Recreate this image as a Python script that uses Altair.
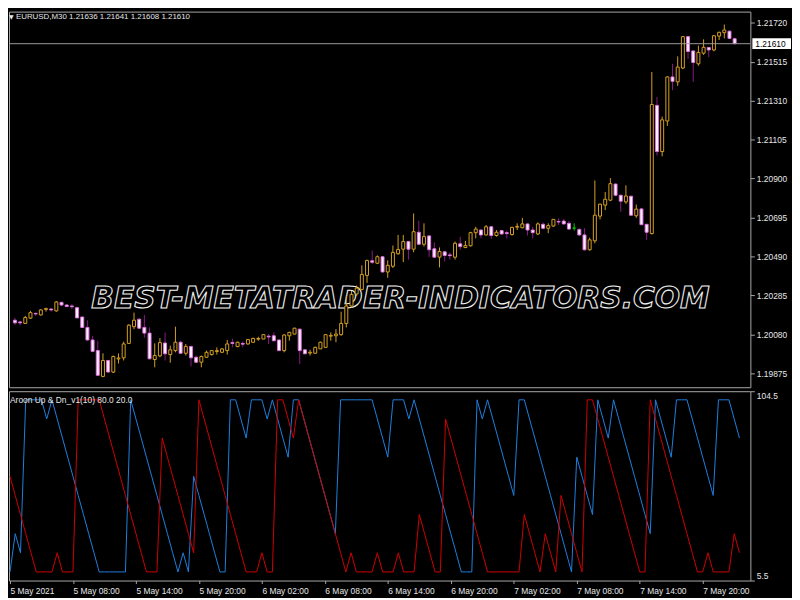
import json
import altair as alt
import pandas as pd

# ---------------- data ----------------
symbol_title = "EURUSD,M30  1.21636 1.21641 1.21608 1.21610"
indicator_title = "Aroon Up & Dn_v1(10) 80.0 20.0"
watermark = "BEST-METATRADER-INDICATORS.COM"

tick_bars = [0, 12, 24, 36, 48, 60, 72, 84, 96, 108, 120, 132]
tick_labels = ["5 May 2021", "5 May 08:00", "5 May 14:00", "5 May 20:00",
               "6 May 02:00", "6 May 08:00", "6 May 14:00", "6 May 20:00",
               "7 May 02:00", "7 May 08:00", "7 May 14:00", "7 May 20:00"]
price_ticks = [1.19875, 1.20080, 1.20285, 1.20490, 1.20695,
               1.20900, 1.21105, 1.21310, 1.21515, 1.21720]
aroon_ticks = [5.5, 104.5]

opens = [1.20154,1.20145,1.20137,1.20165,1.20190,1.20182,1.20211,1.20213,1.20203,1.20248,
1.20234,1.20229,1.20220,1.20171,1.20116,1.20050,1.19994,1.19858,1.19942,1.19881,
1.19950,1.19956,1.20032,1.20120,1.20159,1.20116,1.20086,1.19947,1.19966,1.20034,
1.19973,1.19994,1.20038,1.19980,1.20015,1.19959,1.19933,1.19959,1.19973,1.19989,
1.19985,1.19994,1.20036,1.20015,1.20032,1.20029,1.20038,1.20054,1.20055,1.20070,
1.20072,1.20050,1.19994,1.20072,1.20081,1.20107,1.19998,1.19981,1.19980,1.20003,
1.20011,1.20070,1.20072,1.20078,1.20137,1.20229,1.20292,1.20316,1.20390,1.20467,
1.20454,1.20488,1.20408,1.20438,1.20504,1.20528,1.20568,1.20528,1.20617,1.20554,
1.20598,1.20530,1.20486,1.20514,1.20498,1.20486,1.20556,1.20537,1.20546,1.20615,
1.20629,1.20603,1.20646,1.20600,1.20626,1.20615,1.20605,1.20644,1.20641,1.20661,
1.20629,1.20608,1.20659,1.20638,1.20650,1.20674,1.20676,1.20664,1.20639,1.20632,
1.20603,1.20525,1.20572,1.20702,1.20760,1.20786,1.20871,1.20812,1.20777,1.20807,
1.20704,1.20740,1.20659,1.20610,1.21285,1.21042,1.21203,1.21435,1.21409,1.21482,
1.21647,1.21572,1.21504,1.21560,1.21590,1.21577,1.21650,1.21668,1.21676,1.21636]

highs = [1.20166,1.20151,1.20177,1.20203,1.20194,1.20212,1.20220,1.20215,1.20255,1.20251,
1.20238,1.20238,1.20224,1.20171,1.20154,1.20072,1.20046,1.19980,1.19944,1.19968,
1.19979,1.20041,1.20133,1.20194,1.20164,1.20182,1.20116,1.20032,1.20060,1.20090,
1.20020,1.20120,1.20046,1.20029,1.20020,1.19968,1.19968,1.19994,1.19997,1.20011,
1.20007,1.20050,1.20057,1.20041,1.20041,1.20054,1.20062,1.20067,1.20080,1.20081,
1.20090,1.20052,1.20081,1.20093,1.20114,1.20109,1.19999,1.19998,1.20015,1.20041,
1.20078,1.20090,1.20107,1.20199,1.20281,1.20307,1.20337,1.20443,1.20473,1.20521,
1.20495,1.20490,1.20469,1.20547,1.20603,1.20603,1.20572,1.20716,1.20678,1.20664,
1.20600,1.20564,1.20537,1.20516,1.20511,1.20568,1.20594,1.20572,1.20620,1.20646,
1.20632,1.20655,1.20650,1.20629,1.20629,1.20626,1.20646,1.20664,1.20693,1.20664,
1.20646,1.20669,1.20669,1.20664,1.20687,1.20690,1.20687,1.20676,1.20664,1.20638,
1.20638,1.20589,1.20890,1.20768,1.20829,1.20902,1.20873,1.20814,1.20864,1.20808,
1.20763,1.20746,1.20661,1.21461,1.21329,1.21226,1.21438,1.21504,1.21543,1.21650,
1.21650,1.21574,1.21600,1.21633,1.21591,1.21654,1.21673,1.21711,1.21678,1.21641]

lows = [1.20130,1.20127,1.20134,1.20161,1.20177,1.20178,1.20199,1.20199,1.20199,1.20229,
1.20223,1.20212,1.20166,1.20114,1.20046,1.19985,1.19860,1.19854,1.19879,1.19876,
1.19926,1.19942,1.20029,1.20107,1.20109,1.20062,1.19947,1.19906,1.19959,1.19942,
1.19930,1.19985,1.19977,1.19968,1.19911,1.19928,1.19906,1.19957,1.19968,1.19973,
1.19981,1.19973,1.20011,1.20012,1.20011,1.20025,1.20036,1.20046,1.20054,1.20029,
1.20043,1.19991,1.19985,1.20046,1.20080,1.19924,1.19976,1.19968,1.19979,1.20002,
1.20010,1.20046,1.20038,1.20072,1.20116,1.20220,1.20280,1.20311,1.20350,1.20450,
1.20450,1.20406,1.20377,1.20429,1.20499,1.20460,1.20473,1.20512,1.20551,1.20542,
1.20486,1.20485,1.20432,1.20464,1.20473,1.20473,1.20525,1.20533,1.20542,1.20585,
1.20585,1.20600,1.20582,1.20594,1.20605,1.20584,1.20600,1.20629,1.20638,1.20600,
1.20585,1.20603,1.20632,1.20612,1.20646,1.20655,1.20659,1.20629,1.20626,1.20600,
1.20520,1.20520,1.20559,1.20685,1.20734,1.20781,1.20807,1.20725,1.20767,1.20704,
1.20693,1.20655,1.20577,1.20606,1.21021,1.21017,1.21177,1.21365,1.21388,1.21476,
1.21530,1.21409,1.21494,1.21551,1.21539,1.21570,1.21629,1.21638,1.21637,1.21608]

closes = [1.20140,1.20140,1.20168,1.20194,1.20187,1.20208,1.20215,1.20208,1.20250,1.20234,
1.20226,1.20225,1.20166,1.20116,1.20050,1.19990,1.19864,1.19942,1.19881,1.19963,
1.19955,1.20029,1.20128,1.20154,1.20112,1.20086,1.19951,1.19968,1.20036,1.19977,
1.19998,1.20038,1.19980,1.20016,1.19956,1.19933,1.19963,1.19985,1.19994,1.19994,
1.20003,1.20029,1.20032,1.20038,1.20028,1.20052,1.20058,1.20058,1.20078,1.20066,
1.20046,1.19994,1.20076,1.20090,1.20112,1.19994,1.19977,1.19985,1.20011,1.20038,
1.20078,1.20074,1.20081,1.20137,1.20229,1.20290,1.20323,1.20395,1.20468,1.20459,
1.20488,1.20408,1.20443,1.20511,1.20526,1.20568,1.20528,1.20620,1.20554,1.20594,
1.20525,1.20486,1.20516,1.20495,1.20494,1.20559,1.20542,1.20547,1.20615,1.20634,
1.20603,1.20646,1.20600,1.20617,1.20608,1.20610,1.20643,1.20648,1.20661,1.20629,
1.20615,1.20661,1.20638,1.20652,1.20685,1.20671,1.20661,1.20634,1.20639,1.20603,
1.20525,1.20577,1.20707,1.20765,1.20791,1.20873,1.20812,1.20781,1.20808,1.20707,
1.20739,1.20657,1.20617,1.21290,1.21042,1.21209,1.21435,1.21412,1.21487,1.21647,
1.21569,1.21511,1.21564,1.21591,1.21577,1.21652,1.21670,1.21682,1.21638,1.21610]

aroon_up = [10,30,20,100,100,100,100,90,100,90,
80,70,60,50,40,30,20,10,10,10,
10,10,10,100,90,80,70,60,50,40,
30,20,10,20,10,60,50,40,30,20,
10,10,100,100,90,80,100,100,100,90,
100,90,80,70,100,100,90,80,70,60,
50,40,30,100,100,100,100,100,100,100,
90,80,70,100,100,100,90,100,90,80,
70,60,50,40,30,20,10,10,10,100,
90,100,90,80,70,60,50,100,100,90,
80,70,60,50,40,30,20,10,70,60,
50,40,100,90,80,100,90,80,70,60,
50,40,30,100,90,80,70,100,100,100,
90,80,70,60,50,100,100,100,90,80]

aroon_dn = [60,50,40,30,20,10,10,10,10,20,
10,10,10,100,100,100,100,100,90,80,
70,60,50,40,30,20,10,10,10,80,
70,60,50,40,30,20,100,90,80,70,
60,50,40,30,20,10,10,10,20,10,
10,100,100,90,80,100,90,80,70,60,
50,40,30,20,10,20,10,10,10,10,
20,10,10,10,20,10,10,10,40,30,
20,10,10,90,80,70,60,50,40,30,
20,10,10,10,10,10,10,10,40,30,
20,10,30,20,10,50,40,30,20,10,
100,100,90,80,70,60,50,40,30,20,
10,10,100,90,80,70,60,50,40,30,
20,10,10,20,10,10,10,10,30,20]

# ---------------- build tables ----------------
n = len(opens)
df = pd.DataFrame({"i": list(range(n)), "o": opens, "h": highs, "l": lows,
                   "c": closes, "up": aroon_up, "dn": aroon_dn})
df["dir"] = ["doji" if o == c else ("bull" if c > o else "bear")
             for o, c in zip(opens, closes)]
last = pd.DataFrame({"p": [closes[-1]]})

W = 748
H_MAIN = 379
H_IND = 191
FONT = "Liberation Sans"
TXT = "#E6E6E6"
FRAME = "#A8A8A8"
GOLD = "#D4A020"

xs = alt.Scale(domain=[-0.19, 141.08], nice=False, zero=False)
ys = alt.Scale(domain=[1.19801, 1.21779], nice=False, zero=False)
ind_s = alt.Scale(domain=[5.5, 104.5], nice=False, zero=False)

price_axis = alt.Axis(orient="right", values=price_ticks, format=".5f", title=None,
                      grid=False, domain=False, ticks=True, tickSize=4,
                      tickColor=FRAME, labelColor=TXT, labelFont=FONT,
                      labelFontSize=8.5, labelPadding=2)
ind_axis = alt.Axis(orient="right", values=aroon_ticks, format=".1f", title=None,
                    grid=False, domain=False, ticks=True, tickSize=4,
                    tickColor=FRAME, labelColor=TXT, labelFont=FONT,
                    labelFontSize=8.5, labelPadding=2, labelFlush=True)
label_expr = json.dumps(tick_labels) + "[indexof(" + json.dumps(tick_bars) + ", datum.value)]"
time_axis = alt.Axis(values=tick_bars, labelExpr=label_expr, title=None, grid=False,
                     domain=False, tickSize=3, tickColor=FRAME, labelColor=TXT,
                     labelFont=FONT, labelFontSize=8.5, labelAlign="left",
                     labelPadding=3, labelFlush=False, labelOverlap=False)

dir_dom = ["bull", "bear", "doji"]
X = alt.X("i:Q", scale=xs, axis=None)

wm = alt.Chart(pd.DataFrame({"t": [watermark]})).mark_text(
    align="center", baseline="middle", font="DejaVu Sans", fontSize=30,
    fontStyle="italic", fontWeight="bold", fill="black", stroke="#F0F0F0",
    strokeWidth=1.1
).encode(x=alt.value(395), y=alt.value(290), text="t:N")

wicks = alt.Chart(df).mark_rule(strokeWidth=1, clip=True).encode(
    x=X,
    y=alt.Y("l:Q", scale=ys, axis=price_axis),
    y2="h:Q",
    color=alt.Color("dir:N", scale=alt.Scale(domain=dir_dom,
                    range=[GOLD, "#8A1A8A", "#00C800"]), legend=None),
)

bodies = alt.Chart(df).mark_bar(size=3, strokeWidth=1, clip=True).encode(
    x=X,
    y=alt.Y("o:Q", scale=ys, axis=price_axis),
    y2="c:Q",
    fill=alt.Fill("dir:N", scale=alt.Scale(domain=dir_dom,
                  range=["#000000", "#FFF2FF", "#00C800"]), legend=None),
    stroke=alt.Stroke("dir:N", scale=alt.Scale(domain=dir_dom,
                      range=[GOLD, "#E070E0", "#00C800"]), legend=None),
)

price_line = alt.Chart(last).mark_rule(color="#9A9A9A", strokeWidth=1).encode(
    y=alt.Y("p:Q", scale=ys, axis=price_axis))

price_box = alt.Chart(last).mark_point(
    shape="M-1,-0.28H1V0.28H-1Z", size=1521, filled=True, color="white",
    opacity=1, strokeWidth=0
).encode(x=alt.value(W + 21.5), y=alt.Y("p:Q", scale=ys, axis=price_axis))

price_txt = alt.Chart(last).mark_text(
    align="left", baseline="middle", color="black", font=FONT, fontSize=8.5
).encode(x=alt.value(W + 5), y=alt.Y("p:Q", scale=ys, axis=price_axis),
         text=alt.Text("p:Q", format=".5f"))

tri = alt.Chart(pd.DataFrame({"t": ["\u25BC"]})).mark_text(
    align="left", baseline="middle", color=TXT, font="DejaVu Sans", fontSize=6
).encode(x=alt.value(0), y=alt.value(5), text="t:N")

title_main = alt.Chart(pd.DataFrame({"t": [symbol_title]})).mark_text(
    align="left", baseline="middle", color=TXT, font=FONT, fontSize=8
).encode(x=alt.value(7), y=alt.value(5), text="t:N")

main = alt.layer(wm, wicks, bodies, price_line, price_box, price_txt, tri,
                 title_main).properties(width=W, height=H_MAIN)

XI = alt.X("i:Q", scale=xs, axis=time_axis)
up_line = alt.Chart(df).mark_line(color="#1E80E0", strokeWidth=1, clip=True).encode(
    x=XI, y=alt.Y("up:Q", scale=ind_s, axis=ind_axis))
dn_line = alt.Chart(df).mark_line(color="#D00000", strokeWidth=1, clip=True).encode(
    x=XI, y=alt.Y("dn:Q", scale=ind_s, axis=ind_axis))
ind_title = alt.Chart(pd.DataFrame({"t": [indicator_title]})).mark_text(
    align="left", baseline="middle", color=TXT, font=FONT, fontSize=8.5
).encode(x=alt.value(1), y=alt.value(9), text="t:N")

ind = alt.layer(up_line, dn_line, ind_title).properties(width=W, height=H_IND)

chart = alt.vconcat(main, ind, spacing=2).properties(
    background="black", padding=0
).configure_view(stroke=FRAME, strokeWidth=1)

chart.save("out.html", embed_options={"renderer": "svg", "actions": False})
